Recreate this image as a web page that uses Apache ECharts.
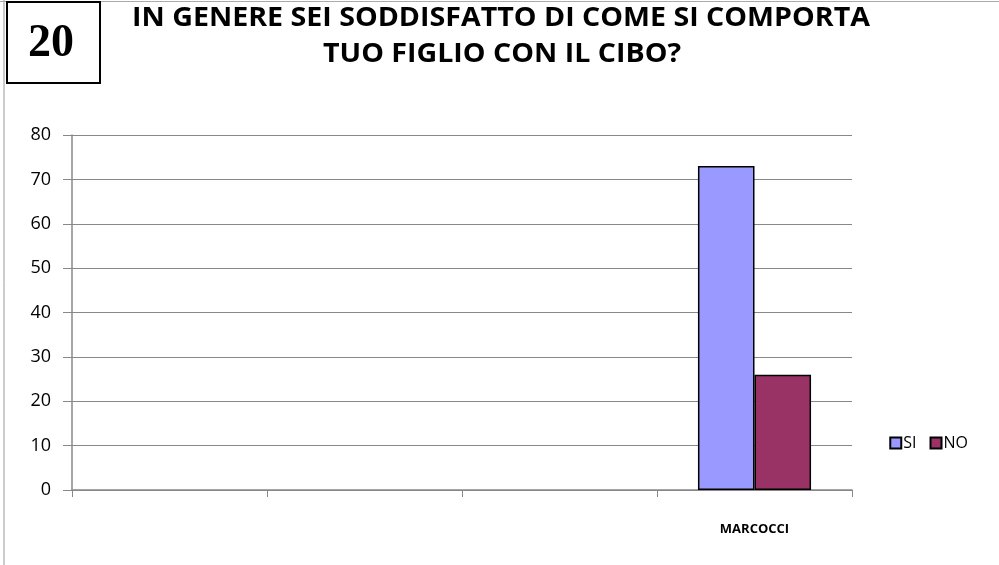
<!DOCTYPE html>
<html><head><meta charset="utf-8">
<script src="https://cdn.jsdelivr.net/npm/echarts@6/dist/echarts.min.js"></script>
<style>html,body{margin:0;padding:0;background:#fff}#c{width:999px;height:565px}</style>
</head><body><div id="c"></div>
<script>
var categories = ['', '', '', 'MARCOCCI'];
var siValues = [null, null, null, 73];
var noValues = [null, null, null, 26];
var yTicks = [0, 10, 20, 30, 40, 50, 60, 70, 80];
var titleLines = ['IN GENERE SEI SODDISFATTO DI COME SI COMPORTA', 'TUO FIGLIO CON IL CIBO?'];
var badge = '20';

var chart = echarts.init(document.getElementById('c'), null, {renderer: 'canvas'});
var font = '"Open Sans", "DejaVu Sans", sans-serif';
chart.setOption({
  animation: false,
  backgroundColor: '#fff',
  graphic: [
    {type: 'line', shape: {x1: 4, y1: 0, x2: 4, y2: 565}, style: {stroke: '#999', lineWidth: 1}},
    {type: 'line', shape: {x1: 0, y1: 1.5, x2: 999, y2: 1.5}, style: {stroke: '#aaa', lineWidth: 1}},
    {type: 'rect', shape: {x: 7, y: 2, width: 93, height: 81}, style: {fill: '#fff', stroke: '#000', lineWidth: 2}},
    {type: 'text', x: 51, y: 44, style: {text: badge, font: 'bold 46px "Liberation Serif", "DejaVu Serif", serif', fill: '#000', align: 'center', verticalAlign: 'middle'}},
    {type: 'text', x: 501, y: 19, style: {text: titleLines[0], font: 'bold 26px ' + font, fill: '#000', align: 'center', verticalAlign: 'middle'}, scaleX: 1.1, originX: 0},
    {type: 'text', x: 502, y: 55, style: {text: titleLines[1], font: 'bold 26px ' + font, fill: '#000', align: 'center', verticalAlign: 'middle'}, scaleX: 1.1, originX: 0}
  ],
  legend: {
    right: 26, top: 430, itemWidth: 11, itemHeight: 11, itemGap: 13,
    textStyle: {fontFamily: font, fontSize: 16, color: '#000', padding: [0, 0, 0, -3]},
    data: [{name: 'SI', icon: 'rect'}, {name: 'NO', icon: 'rect'}]
  },
  grid: {left: 72, right: 147, top: 135, bottom: 75},
  xAxis: {
    type: 'category', data: categories,
    axisLine: {lineStyle: {color: '#888', width: 1.5}},
    axisTick: {show: true, length: 7, lineStyle: {color: '#888'}},
    axisLabel: {margin: 33, fontFamily: font, fontWeight: 'bold', fontSize: 13, color: '#000', interval: 0}
  },
  yAxis: {
    type: 'value', min: 0, max: 80, interval: 10,
    axisLine: {show: true, lineStyle: {color: '#888', width: 1.5}},
    axisTick: {show: true, length: 9, lineStyle: {color: '#888'}},
    splitLine: {lineStyle: {color: '#888', width: 1}},
    axisLabel: {margin: 21, fontFamily: font, fontSize: 18, color: '#000',
      formatter: function (v) { return yTicks.indexOf(v) >= 0 ? String(v) : ''; }}
  },
  series: [
    {name: 'SI', type: 'bar', data: siValues, barGap: '0%', barCategoryGap: '42%',
      itemStyle: {color: '#9999FF', borderColor: '#000', borderWidth: 1.5}},
    {name: 'NO', type: 'bar', data: noValues,
      itemStyle: {color: '#993366', borderColor: '#000', borderWidth: 1.5}}
  ]
});
</script></body></html>
